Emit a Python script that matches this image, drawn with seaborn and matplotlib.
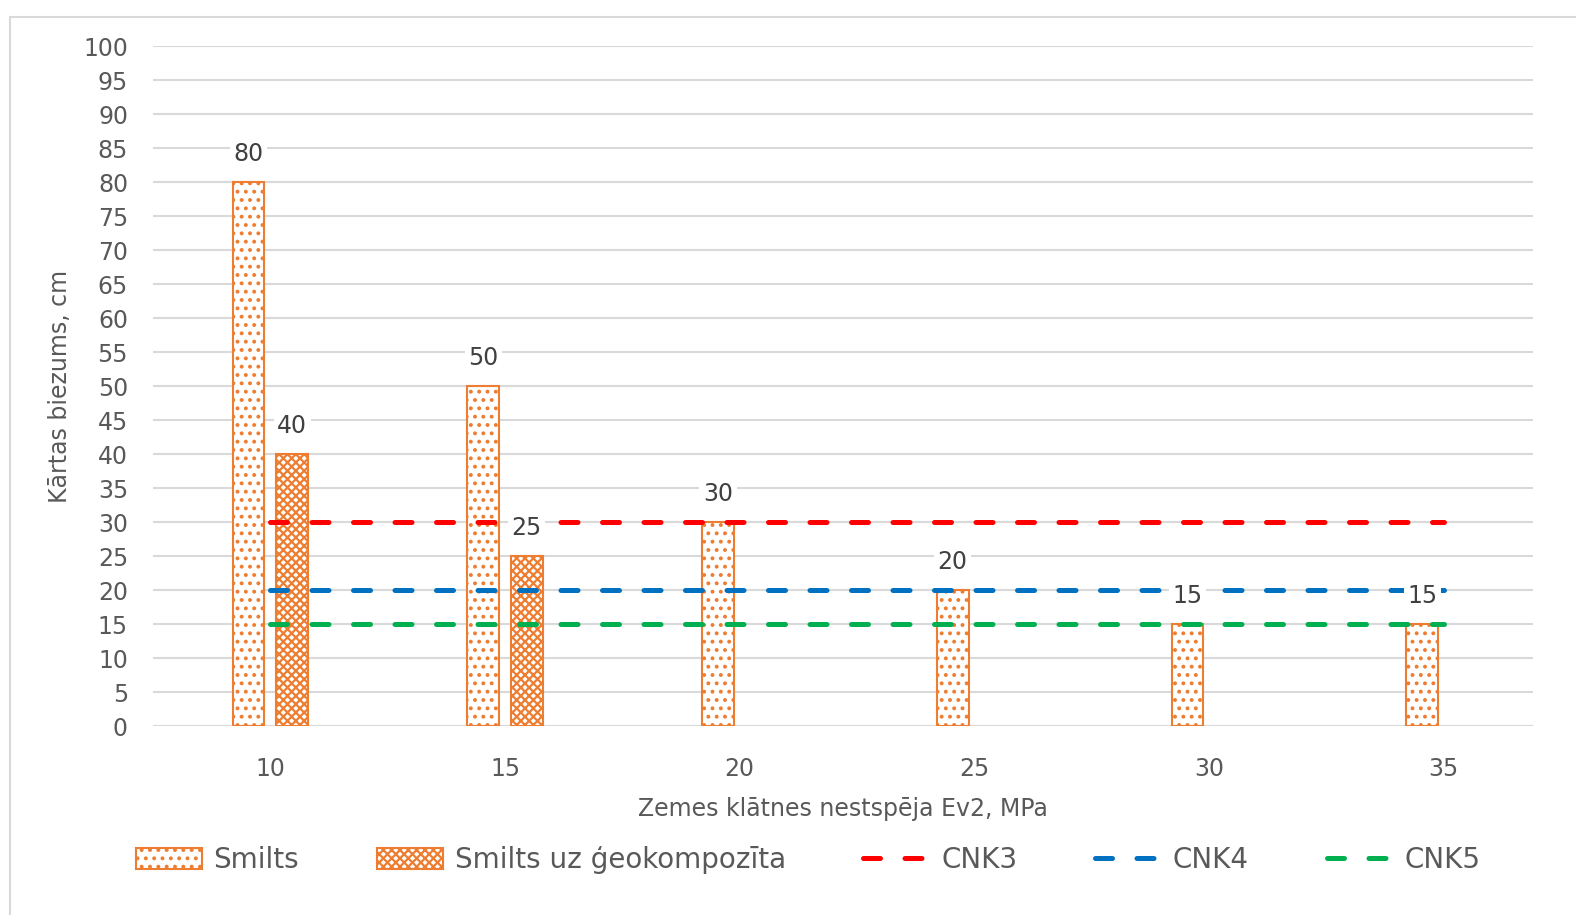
import numpy as np
import pandas as pd
import seaborn as sns
import matplotlib
matplotlib.use("Agg")
import matplotlib.pyplot as plt
from matplotlib.patches import Rectangle

# data
categories = ["10", "15", "20", "25", "30", "35"]
smilts = [80, 50, 30, 20, 15, 15]
smilts_geo = [40, 25, np.nan, np.nan, np.nan, np.nan]
cnk3 = [30, 30, 30, 30, 30, 30]
cnk4 = [20, 20, 20, 20, 20, 20]
cnk5 = [15, 15, 15, 15, 15, 15]
y_ticks = list(range(0, 105, 5))

bar_names = ["Smilts", "Smilts uz ģeokompozīta"]
line_names = ["CNK3", "CNK4", "CNK5"]
line_colors = ["#FF0000", "#0070C0", "#00B050"]
orange = "#ED7D31"
text_col = "#595959"

bars = pd.DataFrame({
    "Ev2": categories * 2,
    "value": smilts + smilts_geo,
    "series": [bar_names[0]] * 6 + [bar_names[1]] * 6,
})
lines = pd.DataFrame({
    "pos": list(range(6)) * 3,
    "value": cnk3 + cnk4 + cnk5,
    "series": [n for n in line_names for _ in range(6)],
})

sns.set_theme(style="white")
plt.rcParams["font.family"] = ["DejaVu Sans"]
plt.rcParams["hatch.linewidth"] = 1.6

fig = plt.figure(figsize=(15.76, 9.15), dpi=100)
ax = fig.add_axes([153 / 1576, 1 - 726 / 915, 1380 / 1576, 680 / 915])

# chart border
fig.patches.append(Rectangle((10 / 1576, -0.01), 1.0, 1 - 17 / 915 + 0.01,
                             transform=fig.transFigure, fill=False,
                             edgecolor="#D9D9D9", linewidth=1.5))

sns.barplot(data=bars, x="Ev2", y="value", hue="series", ax=ax,
            width=0.37, gap=0.27, legend=False, errorbar=None,
            palette=["white", "white"], edgecolor=orange, linewidth=1.5)

hatches = ["..", "xxxx"]
for cont, h in zip(ax.containers, hatches):
    for p in cont:
        p.set_hatch(h)
        p.set_edgecolor(orange)
        p.set_facecolor("white")

sns.lineplot(data=lines, x="pos", y="value", hue="series", ax=ax,
             palette=line_colors, legend=False, linewidth=3.6)
for ln in ax.lines:
    ln.set_dashes([3.4, 4.9])
    ln.set_dash_capstyle("round")
    ln.set_zorder(3)

# data labels
for cont in ax.containers:
    for p in cont:
        h = p.get_height()
        if np.isnan(h) or h == 0:
            continue
        ax.annotate(f"{h:.0f}", (p.get_x() + p.get_width() / 2, h),
                    xytext=(0, 20), textcoords="offset points",
                    ha="center", va="center", fontsize=17, color="#404040",
                    zorder=5,
                    bbox=dict(boxstyle="square,pad=0.15", fc="white", ec="none"))

ax.set_ylim(0, 100)
ax.set_xlim(-0.5, 5.38)
ax.set_yticks(y_ticks)
ax.yaxis.grid(True, color="#D9D9D9", linewidth=1.5)
ax.set_axisbelow(True)
for s in ax.spines.values():
    s.set_visible(False)
ax.axhline(0, color="#D9D9D9", linewidth=1.5, zorder=0)
ax.tick_params(axis="both", length=0, labelsize=17, labelcolor=text_col)
ax.tick_params(axis="y", pad=18)
ax.tick_params(axis="x", pad=22)

ax.set_xlabel("Zemes klātnes nestspēja Ev2, MPa", fontsize=17, color=text_col, labelpad=12)
ax.set_ylabel("Kārtas biezums, cm", fontsize=17, color=text_col, labelpad=8)

handles = [ax.containers[0].patches[0], ax.containers[1].patches[0]] + ax.lines[:3]
fig.legend(handles, bar_names + line_names, loc="center",
           bbox_to_anchor=(808 / 1576, 1 - 860 / 915), ncol=5, frameon=False,
           fontsize=20, handlelength=2.4, handleheight=0.8, handletextpad=0.4,
           columnspacing=2.8, labelcolor=text_col)

fig.savefig("out.png", dpi=100)
